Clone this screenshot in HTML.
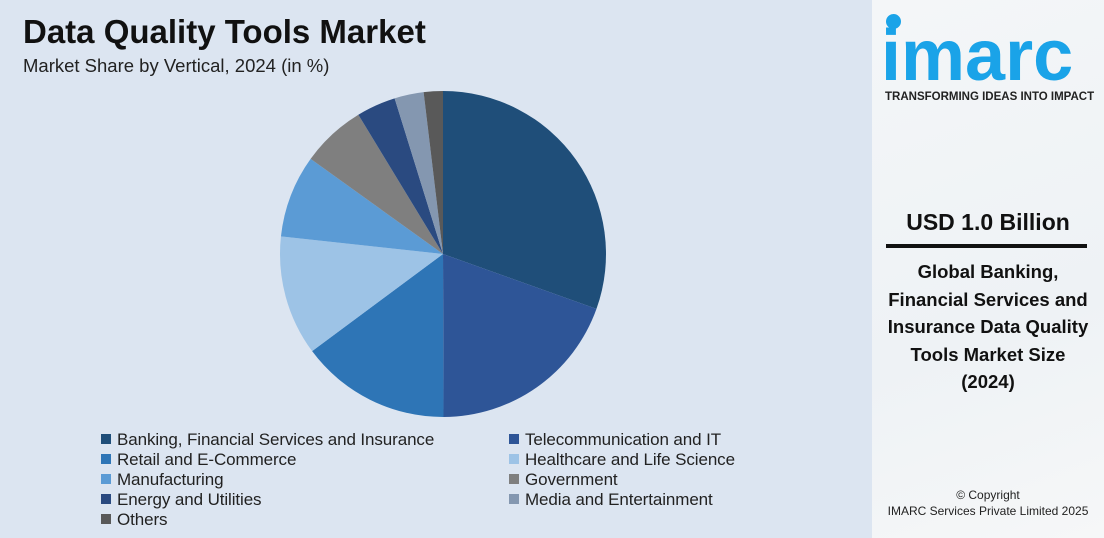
<!DOCTYPE html>
<html><head><meta charset="utf-8"><style>
body{margin:0;width:1104px;height:538px;overflow:hidden;font-family:"Liberation Sans",sans-serif;background:#fff}
#left{position:absolute;left:0;top:0;width:872px;height:538px;background:#dce5f1}
#right{position:absolute;left:872px;top:0;width:232px;height:538px;background:linear-gradient(160deg,#f4f6f8,#eef2f5 60%,#f6f7f8)}
.t{position:absolute;white-space:nowrap}
.leg{position:absolute;font-size:17px;color:#222;white-space:nowrap;letter-spacing:-0.1px}
.leg span{display:inline-block;width:10px;height:10px;margin-right:6px;vertical-align:1px}
</style></head><body>
<div id="left">
<div class="t" style="left:23px;top:13px;font-size:33px;font-weight:bold;color:#111">Data Quality Tools Market</div>
<div class="t" style="left:23px;top:55px;font-size:18.5px;color:#222">Market Share by Vertical, 2024 (in %)</div>
<svg id="pie" width="872" height="538" style="position:absolute;left:0;top:0"></svg>
<div id="legend"></div>
</div>
<div id="right">
<div style="position:absolute;left:14px;top:14px;width:15px;height:15px;border-radius:50%;background:#1aa3e8"></div>
<div class="t" style="left:9px;top:15px;font-size:72px;font-weight:bold;color:#1aa3e8;letter-spacing:0px">imarc</div>
<div class="t" style="left:13px;top:91px;font-size:11.5px;font-weight:bold;color:#222">TRANSFORMING IDEAS INTO IMPACT</div>
<div class="t" style="left:0;width:232px;text-align:center;top:209px;font-size:23px;font-weight:bold;color:#111">USD 1.0 Billion</div>
<div style="position:absolute;left:14px;top:244px;width:201px;height:4px;background:#111"></div>
<div class="t" style="left:0;width:232px;text-align:center;top:258px;font-size:18.5px;font-weight:bold;color:#111;line-height:27.5px;white-space:normal">Global Banking,<br>Financial Services and<br>Insurance Data Quality<br>Tools Market Size<br>(2024)</div>
<div class="t" style="left:0;width:232px;text-align:center;top:487px;font-size:12px;color:#222;line-height:16px">© Copyright<br>IMARC Services Private Limited 2025</div>
</div>
<script>
const categories=["Banking, Financial Services and Insurance","Telecommunication and IT","Retail and E-Commerce","Healthcare and Life Science","Manufacturing","Government","Energy and Utilities","Media and Entertainment","Others"];
const shares=[30.5,19.5,14.9,11.9,8.2,6.4,3.9,2.9,1.9];
const colors=["#1f4e79","#2e5597","#2e75b6","#9dc3e6","#5b9bd5","#7f7f7f","#2a4a80","#8497b0","#595959"];
const svg=document.getElementById('pie');
const cx=443,cy=254,r=163;
const total=shares.reduce((a,b)=>a+b,0);
let a0=0;
shares.forEach((v,i)=>{
 const a1=a0+v/total*2*Math.PI;
 const x0=cx+r*Math.sin(a0),y0=cy-r*Math.cos(a0),x1=cx+r*Math.sin(a1),y1=cy-r*Math.cos(a1);
 const p=document.createElementNS('http://www.w3.org/2000/svg','path');
 p.setAttribute('d',`M${cx},${cy}L${x0},${y0}A${r},${r} 0 ${a1-a0>Math.PI?1:0} 1 ${x1},${y1}Z`);
 p.setAttribute('fill',colors[i]);
 
 
 svg.appendChild(p);
 a0=a1;
});
const lg=document.getElementById('legend');
categories.forEach((c,i)=>{
 const d=document.createElement('div');
 d.className='leg';
 
 
 d.style.left=(i%2?509:101)+'px';
 d.style.top=(430+Math.floor(i/2)*20)+'px';
 d.innerHTML=`<span style="background:${colors[i]}"></span>${c}`;
 lg.appendChild(d);
});
</script>
</body></html>
